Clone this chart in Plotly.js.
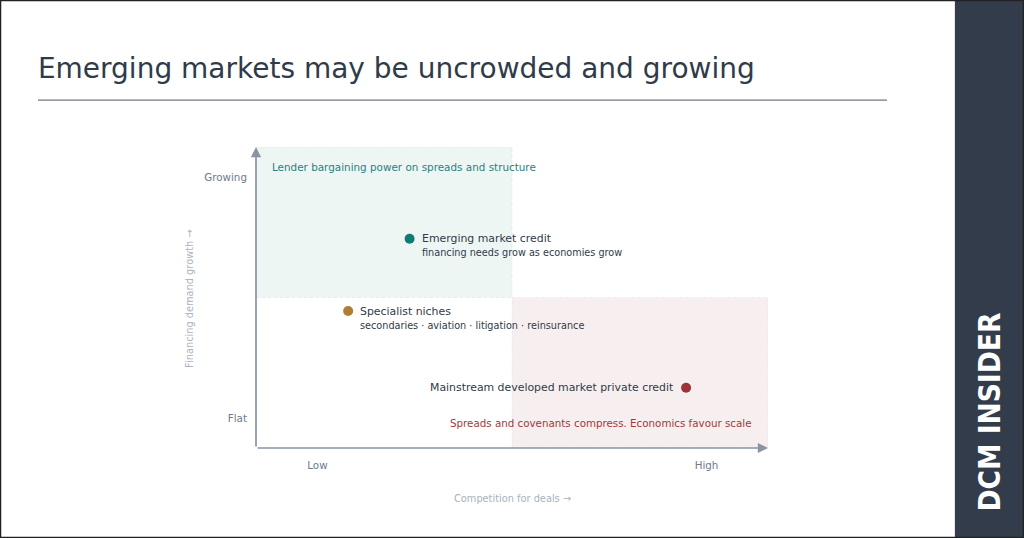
<!DOCTYPE html>
<html>
<head>
<meta charset="utf-8">
<script src="https://cdn.plot.ly/plotly-3.0.1.min.js"></script>
<style>
  html, body { margin: 0; padding: 0; background: #fff; }
  #chart { width: 1024px; height: 538px; }
</style>
</head>
<body>
<div id="chart"></div>
<script>
// segments on the map
var names = ['Emerging market credit', 'Specialist niches', 'Mainstream developed market private credit'];
var notes = ['financing needs grow as economies grow', 'secondaries \u00b7 aviation \u00b7 litigation \u00b7 reinsurance', ''];
var competition = [0.30, 0.18, 0.84];   // x: competition for deals
var demandGrowth = [0.695, 0.455, 0.20]; // y: financing demand growth
var dotColors = ['#127a73', '#b07d33', '#9b3339'];
var labelSide = ['right', 'right', 'left'];

var xTickVals = [0.12, 0.88];
var xTickText = ['Low', 'High'];
var yTickVals = [0.1, 0.9];
var yTickText = ['Flat', 'Growing'];

var font = 'DejaVu Sans, sans-serif';
var ink = '#2f3b49';
var axisCol = '#8a94a3';

var trace = {
  x: competition,
  y: demandGrowth,
  mode: 'markers',
  type: 'scatter',
  marker: { size: 10, color: dotColors },
  hoverinfo: 'skip',
  cliponaxis: false
};

var annotations = [];
for (var i = 0; i < names.length; i++) {
  var right = labelSide[i] == 'right';
  annotations.push({
    x: competition[i], y: demandGrowth[i], xref: 'x', yref: 'y',
    text: names[i], showarrow: false,
    xanchor: right ? 'left' : 'right', yanchor: 'middle',
    xshift: right ? 10 : -10,
    font: { family: font, size: 10.9, color: ink }
  });
  if (notes[i]) {
    annotations.push({
      x: competition[i], y: demandGrowth[i], xref: 'x', yref: 'y',
      text: notes[i], showarrow: false,
      xanchor: right ? 'left' : 'right', yanchor: 'middle',
      xshift: right ? 10 : -10, yshift: -14,
      font: { family: font, size: 9.7, color: ink }
    });
  }
}

// quadrant captions
annotations.push({
  x: 0.027, y: 0.935, xref: 'x', yref: 'y', xanchor: 'left', yanchor: 'middle',
  text: 'Lender bargaining power on spreads and structure', showarrow: false,
  font: { family: font, size: 10.4, color: '#2b7f82' }
});
annotations.push({
  x: 0.972, y: 0.083, xref: 'x', yref: 'y', xanchor: 'right', yanchor: 'middle',
  text: 'Spreads and covenants compress. Economics favour scale', showarrow: false,
  font: { family: font, size: 10.3, color: '#a33838' }
});

// axis arrows
annotations.push({
  x: 0, y: 1, ax: 0, ay: 0, xref: 'x', yref: 'y', axref: 'x', ayref: 'y',
  text: '', showarrow: true, arrowhead: 2, arrowsize: 1.2, arrowwidth: 1.7, arrowcolor: axisCol, standoff: 0
});
annotations.push({
  x: 1, y: 0, ax: 0, ay: 0, xref: 'x', yref: 'y', axref: 'x', ayref: 'y',
  text: '', showarrow: true, arrowhead: 2, arrowsize: 1.2, arrowwidth: 1.7, arrowcolor: axisCol, standoff: 0
});

// axis titles
annotations.push({
  x: -0.131, y: 0.495, xref: 'paper', yref: 'paper', xanchor: 'center', yanchor: 'middle', textangle: -90,
  text: 'Financing demand growth \u2192', showarrow: false,
  font: { family: font, size: 9.8, color: '#aab2bd' }
});
annotations.push({
  x: 0.5, y: -0.169, xref: 'paper', yref: 'paper', xanchor: 'center', yanchor: 'middle',
  text: 'Competition for deals \u2192', showarrow: false,
  font: { family: font, size: 9.8, color: '#aab2bd' }
});

// brand sidebar text
annotations.push({
  x: 1.4336, y: 0.118, xref: 'paper', yref: 'paper', xanchor: 'center', yanchor: 'middle', textangle: -90,
  text: '<b>DCM INSIDER</b>', showarrow: false,
  font: { family: 'Liberation Sans Narrow, DejaVu Sans Condensed, Arial Narrow, Liberation Sans, sans-serif', size: 29.5, color: '#ffffff' }
});

var shapes = [
  { type: 'rect', xref: 'x', yref: 'y', x0: 0, x1: 0.5, y0: 0.5, y1: 1, layer: 'below',
    fillcolor: '#eef6f4', line: { color: 'rgba(120,170,165,0.15)', width: 1, dash: 'dot' } },
  { type: 'rect', xref: 'x', yref: 'y', x0: 0.5, x1: 1, y0: 0, y1: 0.5, layer: 'below',
    fillcolor: '#f7efef', line: { color: 'rgba(190,140,140,0.12)', width: 1, dash: 'dot' } },
  // title rule
  { type: 'line', xref: 'paper', yref: 'paper', x0: -0.4258, x1: 1.2324, y0: 1.156, y1: 1.156,
    line: { color: '#707985', width: 1.3 } },
  // sidebar
  { type: 'rect', xref: 'paper', yref: 'paper', x0: 1.365, x1: 1.5, y0: -0.3, y1: 1.49,
    fillcolor: '#323c4a', line: { width: 0 } },
  // frame
  { type: 'rect', xref: 'paper', yref: 'paper', x0: -0.4990, x1: 1.499, y0: -0.2973, y1: 1.4867,
    fillcolor: 'rgba(0,0,0,0)', line: { color: '#222', width: 1.5 } }
];

var layout = {
  width: 1024,
  height: 538,
  margin: { l: 256, r: 256, t: 147, b: 90 },
  paper_bgcolor: '#ffffff',
  plot_bgcolor: '#ffffff',
  showlegend: false,
  title: {
    text: 'Emerging markets may be uncrowded and growing',
    xref: 'container', yref: 'container', x: 0.037, xanchor: 'left',
    y: 0.874, yanchor: 'middle',
    font: { family: font, size: 28, color: ink }
  },
  xaxis: {
    range: [0, 1], showgrid: false, zeroline: false, showline: false,
    tickvals: xTickVals, ticktext: xTickText, ticks: 'outside', ticklen: 8, tickcolor: 'rgba(0,0,0,0)',
    tickfont: { family: font, size: 10.3, color: '#6e7a8a' },
    fixedrange: true
  },
  yaxis: {
    range: [0, 1], showgrid: false, zeroline: false, showline: false,
    tickvals: yTickVals, ticktext: yTickText, ticks: 'outside', ticklen: 6, tickcolor: 'rgba(0,0,0,0)',
    tickfont: { family: font, size: 10.3, color: '#6e7a8a' },
    fixedrange: true
  },
  shapes: shapes,
  annotations: annotations
};

Plotly.newPlot('chart', [trace], layout, { displayModeBar: false, staticPlot: true });
</script>
</body>
</html>
